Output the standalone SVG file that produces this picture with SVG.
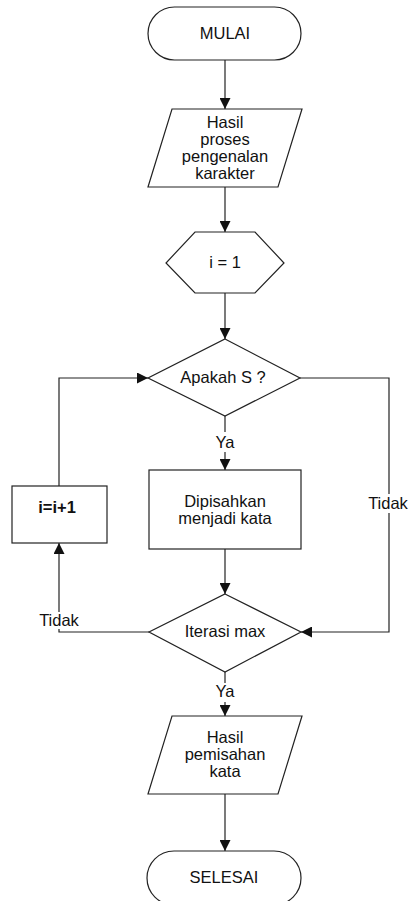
<svg xmlns="http://www.w3.org/2000/svg" width="409" height="901" viewBox="0 0 409 901">
<style>
.s{fill:#fff;stroke:#222;stroke-width:1.2}
.c{fill:none;stroke:#222;stroke-width:1.2}
text{font-family:"Liberation Sans",Arial,sans-serif;font-size:16.5px;fill:#111;text-anchor:middle}
</style>
<defs>
<marker id="a" markerUnits="userSpaceOnUse" markerWidth="11" markerHeight="11" refX="11" refY="5.5" orient="auto">
<path d="M0,0 L11,5.5 L0,11 z" fill="#111"/>
</marker>
</defs>
<rect width="409" height="901" fill="#fff"/>
<g id="connectors">
<path class="c" d="M225,60 V109" marker-end="url(#a)"/>
<path class="c" d="M225,187 V232" marker-end="url(#a)"/>
<path class="c" d="M225,293 V339" marker-end="url(#a)"/>
<path class="c" d="M225,416 V432"/>
<path class="c" d="M225,452 V470" marker-end="url(#a)"/>
<path class="c" d="M225,549 V594" marker-end="url(#a)"/>
<path class="c" d="M300,378 H389 V494"/>
<path class="c" d="M389,513 V632 H301" marker-end="url(#a)"/>
<path class="c" d="M149,632 H59 V629"/>
<path class="c" d="M59,612 V543" marker-end="url(#a)"/>
<path class="c" d="M59,486 V378 H148" marker-end="url(#a)"/>
<path class="c" d="M225,672 V683"/>
<path class="c" d="M225,702 V716" marker-end="url(#a)"/>
<path class="c" d="M225,794 V851" marker-end="url(#a)"/>
<text x="225" y="448">Ya</text>
<text x="225" y="697">Ya</text>
<text x="388" y="509">Tidak</text>
<text x="59" y="626">Tidak</text>
</g>
<g id="mulai">
<rect class="s" x="148" y="7" width="153" height="53" rx="26.5"/>
<text x="225" y="39">MULAI</text>
</g>
<g id="hasil-proses">
<polygon class="s" points="172,109 302,109 278,187 148,187"/>
<text x="225" y="128">Hasil</text>
<text x="225" y="145">proses</text>
<text x="225" y="162">pengenalan</text>
<text x="225" y="179">karakter</text>
</g>
<g id="init">
<polygon class="s" points="195,232 255,232 284,263 255,293 195,293 166,263"/>
<text x="225" y="268">i = 1</text>
</g>
<g id="apakah">
<polygon class="s" points="225,339 300,378 225,416 148,378"/>
<text x="223" y="383">Apakah S ?</text>
</g>
<g id="dipisahkan">
<rect class="s" x="149" y="470" width="152" height="79"/>
<text x="225" y="507">Dipisahkan</text>
<text x="225" y="524">menjadi kata</text>
</g>
<g id="increment">
<rect class="s" x="12" y="486" width="95" height="57"/>
<text x="57" y="513" font-weight="bold">i=i+1</text>
</g>
<g id="iterasi">
<polygon class="s" points="225,594 301,632 225,672 149,632"/>
<text x="225" y="637">Iterasi max</text>
</g>
<g id="hasil-pemisahan">
<polygon class="s" points="172,716 302,716 278,794 148,794"/>
<text x="225" y="743">Hasil</text>
<text x="225" y="760">pemisahan</text>
<text x="225" y="777">kata</text>
</g>
<g id="selesai">
<rect class="s" x="147" y="851" width="154" height="54" rx="27"/>
<text x="224" y="883">SELESAI</text>
</g>
</svg>
